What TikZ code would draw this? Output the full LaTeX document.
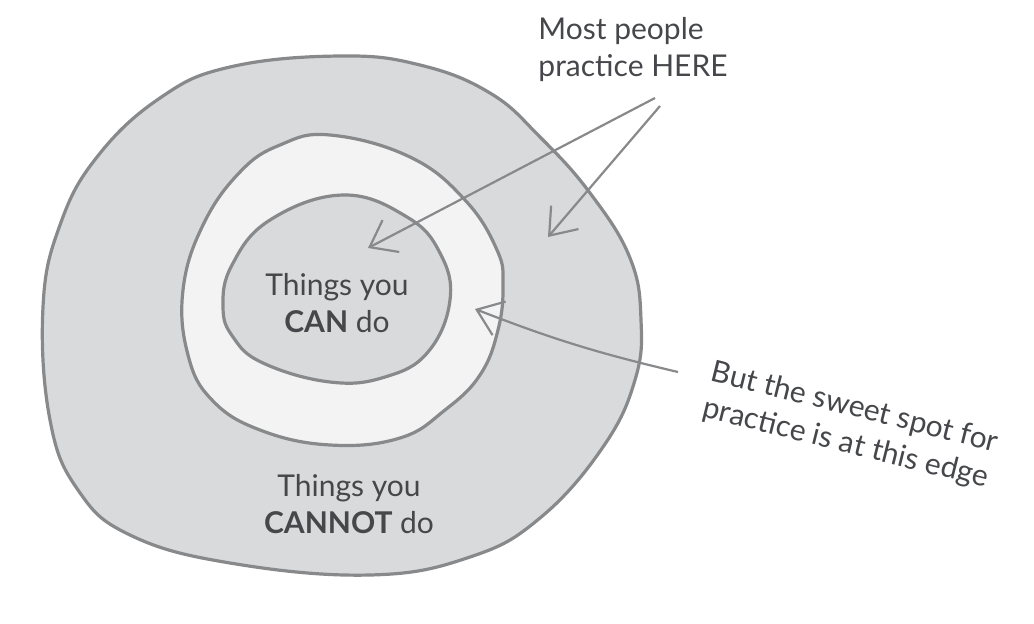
\documentclass[tikz,border=0pt]{standalone}
\usepackage{fontspec}
\setmainfont{Lato}
\definecolor{Zone}{RGB}{217,218,220}
\definecolor{Ring}{RGB}{243,243,243}
\definecolor{Edge}{RGB}{136,137,139}
\definecolor{Ink}{RGB}{70,71,74}
\usetikzlibrary{arrows.meta}

\begin{document}
\begin{tikzpicture}[x=1pt,y=-1pt,
  zone/.style={draw=Edge,line width=3.2pt,line join=round},
  note/.style={text=Ink,font=\fontsize{30}{37}\selectfont,align=center,inner sep=0pt},
  pointer/.style={draw=Edge,line width=2.2pt,-{Straight Barb[length=24pt,width=36pt,line width=2.2pt]}}]
  \useasboundingbox (0,0) rectangle (1034,624);
  % the three zones
  \fill[Zone,zone] plot[smooth cycle,tension=0.7] coordinates {(43,307) (50,420) (78,490) (130,535) (230,563) (370,575) (470,557) (540,518) (603,447) (635,380) (641,320) (630,258) (590,193) (540,137) (490,93) (420,65) (340,56) (230,67) (160,98) (97,157) (60,225)};
  \fill[Ring,zone] plot[smooth cycle,tension=0.7] coordinates {(183,290) (188,355) (212,400) (260,430) (330,445) (400,438) (445,410) (480,375) (498,330) (503,285) (497,250) (465,200) (410,157) (330,135) (280,145) (240,172) (203,225)};
  \fill[Zone,zone] plot[smooth cycle,tension=0.7] coordinates {(223,307) (233,337) (263,363) (330,382) (385,377) (428,352) (450,300) (440,253) (407,217) (343,195) (270,220) (232,265)};
  % labels
  \node[note] (can) at (337,303) {Things you\\\textbf{CAN} do};
  \node[note] (cannot) at (349,504) {Things you\\\textbf{CANNOT} do};
  \node[note,align=left] (here) at (633,50) {Most people\\practice HERE};
  \node[note,rotate=-14] (sweet) at (850,426) {But the sweet spot for\\practice is at this edge};
  % arrows
  \coordinate (hereA) at (655,98);
  \coordinate (hereB) at (660,106);
  \coordinate (sweetA) at (678,372);
  \coordinate (inside) at (368,248);
  \coordinate (outside) at (548,237);
  \coordinate (edge) at (475,309);
  \draw[pointer] (hereA) -- (inside);
  \draw[pointer] (hereB) -- (outside);
  \draw[pointer] (sweetA) to[bend left=4] (edge);
\end{tikzpicture}
\end{document}
